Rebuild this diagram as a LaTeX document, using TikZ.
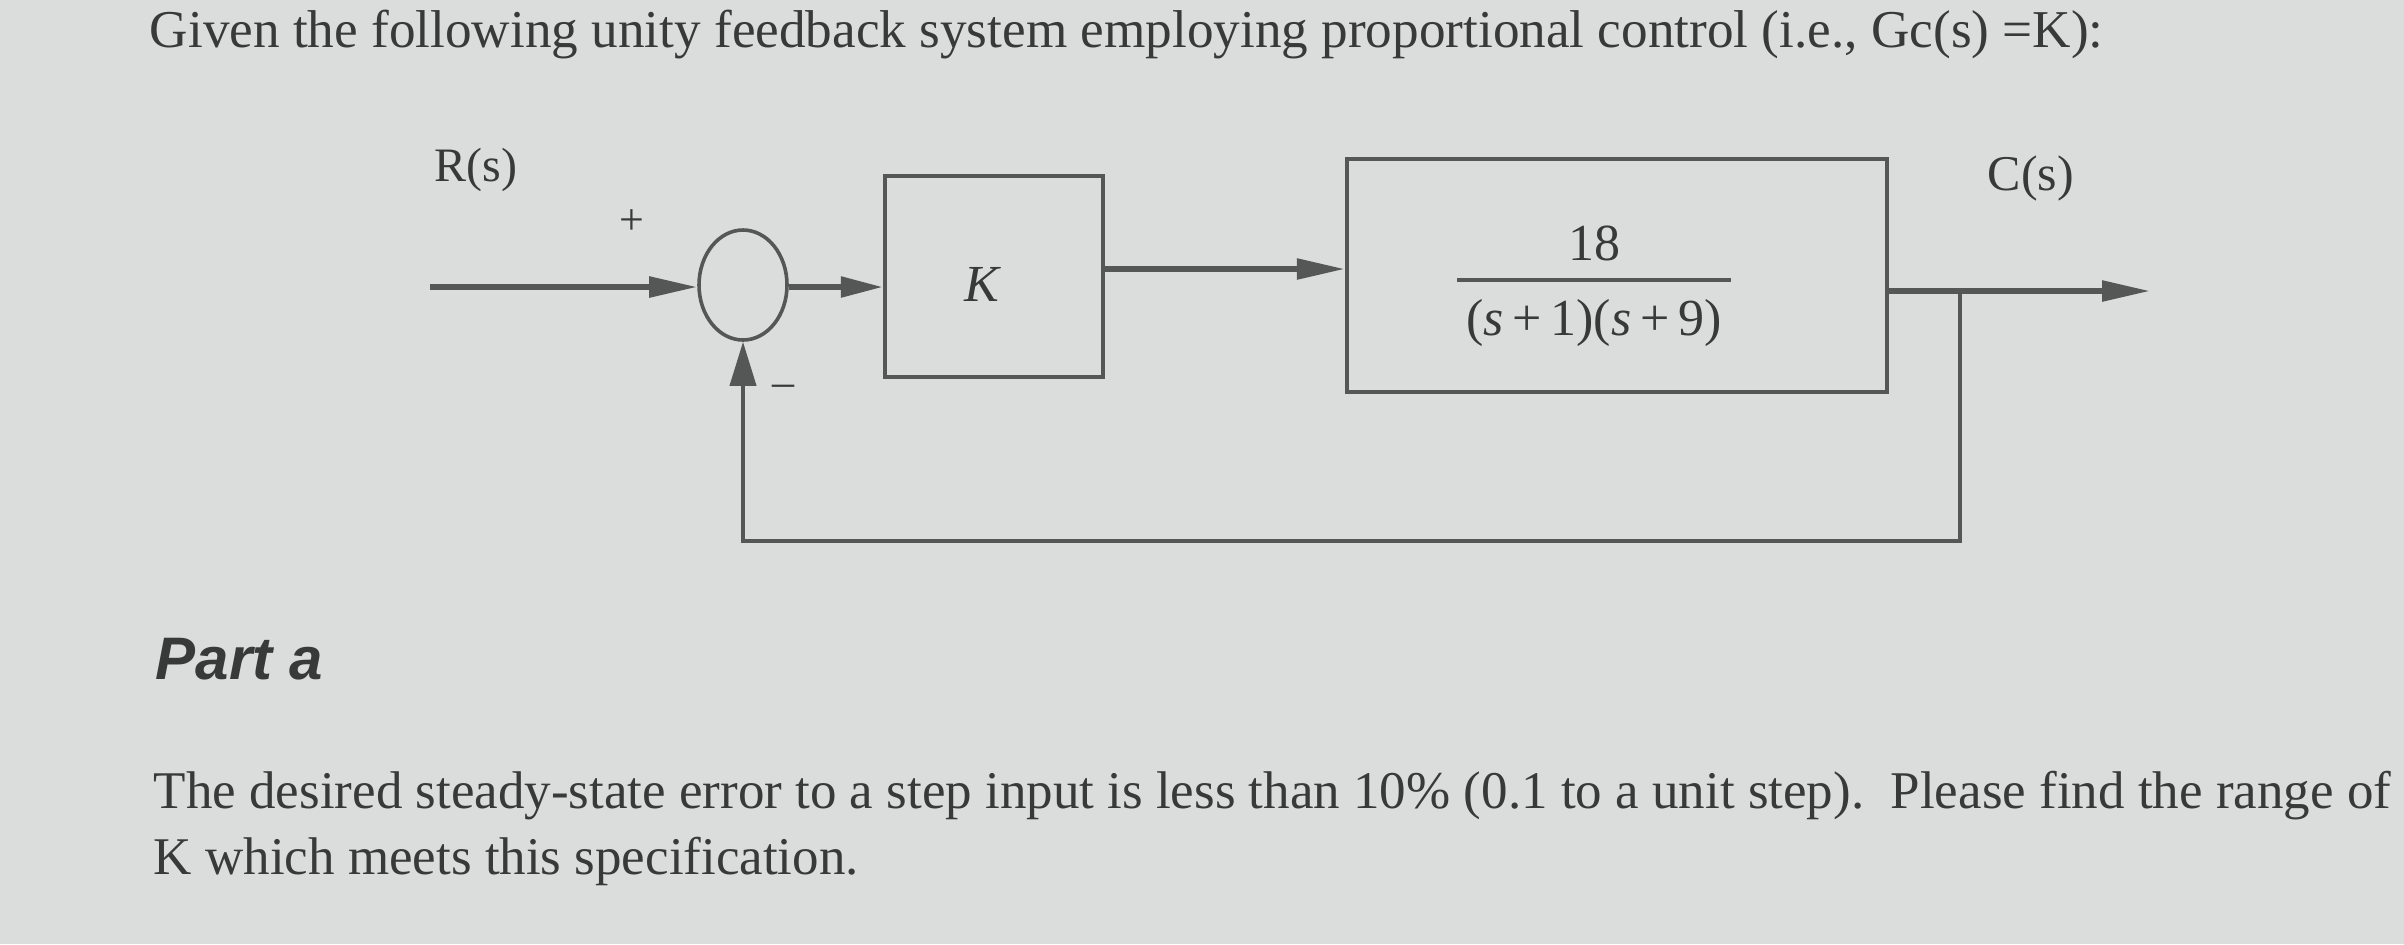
\documentclass[tikz,border=0pt]{standalone}
\usepackage{fontspec}
\setmainfont{Liberation Serif}
\newfontfamily\partfont{Liberation Sans}
\usetikzlibrary{arrows.meta,shapes.geometric}
\definecolor{bgc}{HTML}{DADDDB}
\definecolor{linec}{HTML}{555757}
\definecolor{textc}{HTML}{383939}
\tikzset{
  blk/.style={draw=linec, line width=1.1pt, inner sep=0pt},
  sumc/.style={ellipse, draw=linec, line width=0.9pt, minimum width=22pt, minimum height=27.5pt, inner sep=0pt},
  sig/.style={draw=linec, line width=1.4pt, -{Triangle[length=12pt,width=5pt]}},
  sigs/.style={draw=linec, line width=1.4pt, -{Triangle[length=10.5pt,width=5pt]}},
  fb/.style={draw=linec, line width=1pt, -{Triangle[length=11pt,width=6.5pt]}},
  lbl/.style={text=textc, inner sep=0pt},
}
\begin{document}
\begin{tikzpicture}[x=0.25pt,y=-0.25pt]
\fill[bgc] (0,0) rectangle (2404,944);
\useasboundingbox (0,0) rectangle (2404,944);

% title
\node[lbl, anchor=base west] (title) at (149,47)
  {\fontsize{13.3}{15}\selectfont Given the following unity feedback system employing proportional control (i.e., Gc(s) =K):};

% blocks
\node[sumc] (sum) at (743,285) {};
\node[blk, minimum width=54.5pt, minimum height=50.25pt] (K) at (994,276.5) {};
\node[lbl] (Klab) at (983,284) {\fontsize{13}{15}\selectfont\textit{K}};
\node[blk, minimum width=135pt, minimum height=58.25pt] (G) at (1617,275.5) {};
\node[lbl] (num) at (1594,243) {\fontsize{13}{15}\selectfont 18};
\node[lbl] (den) at (1594,323) {\fontsize{13}{15}\selectfont (\textit{s}\,+\,1)(\textit{s}\,+\,9)};
\draw[linec, line width=1.1pt] (1457,280) -- (1731,280);

% labels
\node[lbl] (R) at (476,170) {\fontsize{12}{14}\selectfont R(s)};
\node[lbl] (C) at (2031,178) {\fontsize{12.5}{14}\selectfont C(s)};
\node[lbl] (plus) at (632,222) {\fontsize{11}{13}\selectfont +};
\node[lbl] (minus) at (783,391) {\fontsize{11}{13}\selectfont \textendash};

% connectors
\coordinate (in) at (430,287);
\coordinate (out) at (2150,291);
\coordinate (br) at (1960,291);
\coordinate (fbl) at (743,541);
\draw[sig] (in) -- (sum.west |- in);
\draw[sigs] (sum.east |- 0,287) -- (K.west |- 0,287);
\draw[sig] (K.east |- 0,269) -- (G.west |- 0,269);
\draw[sig] (G.east |- out) -- (out);
\draw[fb] (br) |- (fbl) -- (sum.south);

% text below
\node[lbl, anchor=base west] (part) at (155,679)
  {\partfont\bfseries\itshape\fontsize{15}{17}\selectfont Part a};
\node[lbl, anchor=base west] (p1) at (153,808)
  {\fontsize{13.25}{15}\selectfont The desired steady-state error to a step input is less than 10\% (0.1 to a unit step).\ \ Please find the range of};
\node[lbl, anchor=base west] (p2) at (153,874)
  {\fontsize{13.25}{15}\selectfont K which meets this specification.};
\end{tikzpicture}
\end{document}
